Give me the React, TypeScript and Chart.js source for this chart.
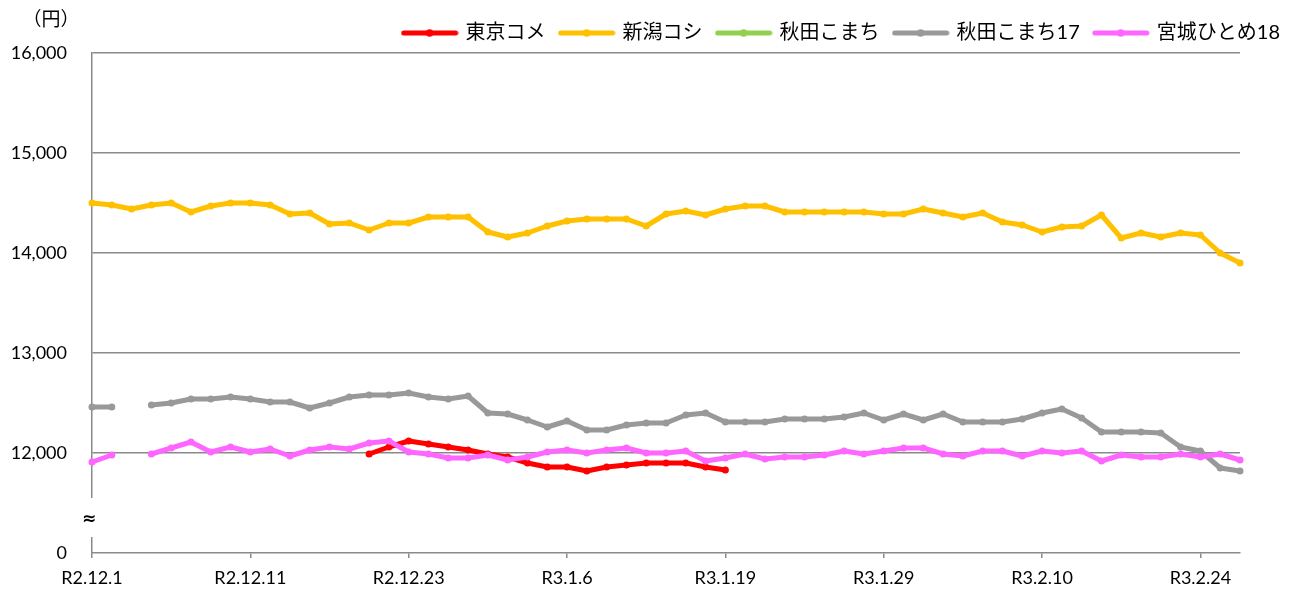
import React, { useEffect, useRef } from "react";
import { Chart, registerables } from "chart.js";

Chart.register(...registerables);

// ---- data ----
const DATES = [
  "R2.12.1", "R2.12.2", "R2.12.3", "R2.12.4", "R2.12.7", "R2.12.8", "R2.12.9", "R2.12.10", "R2.12.11",
  "R2.12.14", "R2.12.15", "R2.12.16", "R2.12.17", "R2.12.18", "R2.12.21", "R2.12.22", "R2.12.23",
  "R2.12.24", "R2.12.25", "R2.12.28", "R2.12.29", "R2.12.30", "R3.1.4", "R3.1.5", "R3.1.6",
  "R3.1.7", "R3.1.8", "R3.1.12", "R3.1.13", "R3.1.14", "R3.1.15", "R3.1.18", "R3.1.19",
  "R3.1.20", "R3.1.21", "R3.1.22", "R3.1.25", "R3.1.26", "R3.1.27", "R3.1.28", "R3.1.29",
  "R3.2.1", "R3.2.2", "R3.2.3", "R3.2.4", "R3.2.5", "R3.2.8", "R3.2.9", "R3.2.10",
  "R3.2.12", "R3.2.15", "R3.2.16", "R3.2.17", "R3.2.18", "R3.2.19", "R3.2.22", "R3.2.24",
  "R3.2.25", "R3.2.26",
];
const LABEL_EVERY = 8;

const SERIES_NAMES = ["東京コメ", "新潟コシ", "秋田こまち", "秋田こまち17", "宮城ひとめ18"];
const SERIES_COLORS = ["#FF0000", "#FFC000", "#92D050", "#999999", "#FF66FF"];

const TOKYO_KOME = [
  null, null, null, null, null, null, null, null, null, null, null, null, null, null,
  11990, 12060, 12120, 12090, 12060, 12030, 11990, 11960, 11900, 11860, 11860, 11820, 11860,
  11880, 11900, 11900, 11900, 11860, 11830,
  null, null, null, null, null, null, null, null, null, null, null, null, null,
  null, null, null, null, null, null, null, null, null, null, null, null, null,
];
const NIIGATA_KOSHI = [
  14500, 14480, 14440, 14480, 14500, 14410, 14470, 14500, 14500, 14480, 14390, 14400, 14290,
  14300, 14230, 14300, 14300, 14360, 14360, 14360, 14210, 14160, 14200, 14270, 14320, 14340,
  14340, 14340, 14270, 14390, 14420, 14380, 14440, 14470, 14470, 14410, 14410, 14410, 14410,
  14410, 14390, 14390, 14440, 14400, 14360, 14400, 14310, 14280, 14210, 14260, 14270, 14380,
  14150, 14200, 14160, 14200, 14180, 14000, 13900,
];
const AKITA_KOMACHI = DATES.map(() => null);
const AKITA_KOMACHI_17 = [
  12460, 12460, null, 12480, 12500, 12540, 12540, 12560, 12540, 12510, 12510, 12450, 12500,
  12560, 12580, 12580, 12600, 12560, 12540, 12570, 12400, 12390, 12330, 12260, 12320, 12230,
  12230, 12280, 12300, 12300, 12380, 12400, 12310, 12310, 12310, 12340, 12340, 12340, 12360,
  12400, 12330, 12390, 12330, 12390, 12310, 12310, 12310, 12340, 12400, 12440, 12350, 12210,
  12210, 12210, 12200, 12060, 12020, 11850, 11820,
];
const MIYAGI_HITOME_18 = [
  11910, 11980, null, 11990, 12050, 12110, 12010, 12060, 12010, 12040, 11970, 12030, 12060,
  12040, 12100, 12120, 12010, 11990, 11950, 11950, 11980, 11930, 11960, 12010, 12030, 12000,
  12030, 12050, 12000, 12000, 12020, 11920, 11950, 11990, 11940, 11960, 11960, 11980, 12020,
  11990, 12020, 12050, 12050, 11990, 11970, 12020, 12020, 11970, 12020, 12000, 12020, 11920,
  11980, 11960, 11960, 11990, 11960, 11990, 11930,
];
const SERIES_VALUES = [TOKYO_KOME, NIIGATA_KOSHI, AKITA_KOMACHI, AKITA_KOMACHI_17, MIYAGI_HITOME_18];

// y axis: broken axis; the bottom tick stands for 0
const Y_MIN = 11000;
const Y_MAX = 16000;
const Y_STEP = 1000;
const ZERO_TICK = 11000;
const BREAK_HIGH = 11550;
const BREAK_LOW = 11160;
const BREAK_MARK = 11330;

const FONT_LATIN = "Lato, 'Noto Sans CJK JP', sans-serif";
const AXIS_GRAY = "#8a8a8a";

function legendIcon(color: string): HTMLCanvasElement {
  const c = document.createElement("canvas");
  c.width = 58;
  c.height = 12;
  const g = c.getContext("2d")!;
  g.strokeStyle = color;
  g.lineWidth = 5;
  g.lineCap = "round";
  g.beginPath();
  g.moveTo(3, 6);
  g.lineTo(55, 6);
  g.stroke();
  g.fillStyle = color;
  g.beginPath();
  g.arc(29, 6, 3.8, 0, Math.PI * 2);
  g.fill();
  return c;
}

const extrasPlugin = {
  id: "extras",
  afterDraw(chart: any) {
    const { ctx, chartArea } = chart;
    const y = chart.scales.y;
    ctx.save();
    const top = y.getPixelForValue(BREAK_HIGH);
    const bot = y.getPixelForValue(BREAK_LOW);
    ctx.fillStyle = "#ffffff";
    ctx.fillRect(chartArea.left - 4, top, 8, bot - top);
    ctx.fillStyle = "#000000";
    ctx.textAlign = "center";
    ctx.textBaseline = "middle";
    ctx.font = "bold 17px 'DejaVu Sans', sans-serif";
    ctx.fillText("≈", chartArea.left - 3, y.getPixelForValue(BREAK_MARK));
    ctx.font = "19px 'Noto Sans CJK JP', sans-serif";
    ctx.fillText("（円）", 51, 19);
    ctx.restore();
  },
};

export default function App() {
  const ref = useRef<HTMLCanvasElement | null>(null);

  useEffect(() => {
    if (!ref.current) return;
    const chart = new Chart(ref.current, {
      type: "line",
      data: {
        labels: DATES,
        datasets: SERIES_NAMES.map((name, i) => ({
          label: name,
          data: SERIES_VALUES[i],
          borderColor: SERIES_COLORS[i],
          backgroundColor: SERIES_COLORS[i],
          borderWidth: 5,
          pointRadius: 3.5,
          pointBorderWidth: 0,
          pointBackgroundColor: SERIES_COLORS[i],
          borderJoinStyle: "round",
          borderCapStyle: "round",
          spanGaps: false,
          tension: 0,
          order: SERIES_NAMES.length - i,
        })),
      },
      options: {
        animation: false,
        responsive: false,
        layout: { padding: { top: 8, right: 3, left: 0, bottom: 0 } },
        plugins: {
          tooltip: { enabled: false },
          legend: {
            position: "top",
            align: "end",
            labels: {
              usePointStyle: true,
              pointStyleWidth: 52,
              padding: 15,
              color: "#000000",
              font: { family: FONT_LATIN, size: 20 },
              generateLabels: (c: any) =>
                c.data.datasets.map((ds: any, i: number) => ({
                  text: ds.label,
                  fillStyle: ds.borderColor,
                  strokeStyle: ds.borderColor,
                  lineWidth: 0,
                  pointStyle: legendIcon(ds.borderColor),
                  hidden: false,
                  datasetIndex: i,
                  fontColor: "#000000",
                })),
            },
          },
        },
        scales: {
          x: {
            type: "category",
            offset: false,
            afterFit: (s: any) => {
              s.height = 42;
            },
            grid: {
              drawOnChartArea: false,
              drawTicks: true,
              tickLength: 5,
              lineWidth: 1.5,
              color: (ctx: any) => (ctx.index % LABEL_EVERY === 0 ? AXIS_GRAY : "rgba(0,0,0,0)"),
              tickColor: (ctx: any) => (ctx.index % LABEL_EVERY === 0 ? AXIS_GRAY : "rgba(0,0,0,0)"),
            },
            border: { display: true, color: AXIS_GRAY, width: 1.5 },
            ticks: {
              autoSkip: false,
              maxRotation: 0,
              minRotation: 0,
              padding: 9,
              color: "#000000",
              font: { family: FONT_LATIN, size: 18 },
              callback: (_v: any, idx: number) => (idx % LABEL_EVERY === 0 ? DATES[idx] : ""),
            },
          },
          y: {
            type: "linear",
            position: "left",
            min: Y_MIN,
            max: Y_MAX,
            afterFit: (s: any) => {
              s.width = 92;
            },
            grid: {
              drawTicks: false,
              lineWidth: 1.5,
              color: (ctx: any) => (ctx.tick && ctx.tick.value === ZERO_TICK ? "rgba(0,0,0,0)" : AXIS_GRAY),
            },
            border: { display: true, color: AXIS_GRAY, width: 1.5 },
            ticks: {
              stepSize: Y_STEP,
              padding: 25,
              color: "#000000",
              font: { family: FONT_LATIN, size: 18 },
              callback: (v: any) => (v === ZERO_TICK ? "0" : Number(v).toLocaleString("en-US")),
            },
          },
          yRight: {
            type: "linear",
            position: "right",
            display: true,
            afterFit: (s: any) => {
              s.width = 55;
            },
            grid: { display: false, drawTicks: false },
            border: { display: false },
            ticks: { display: false },
          },
        },
      },
      plugins: [extrasPlugin],
    } as any);
    return () => chart.destroy();
  }, []);

  return (
    <div style={{ position: "fixed", left: 0, top: 0, width: 1298, height: 595, background: "#fff" }}>
      <canvas ref={ref} width={1298} height={595} />
    </div>
  );
}
